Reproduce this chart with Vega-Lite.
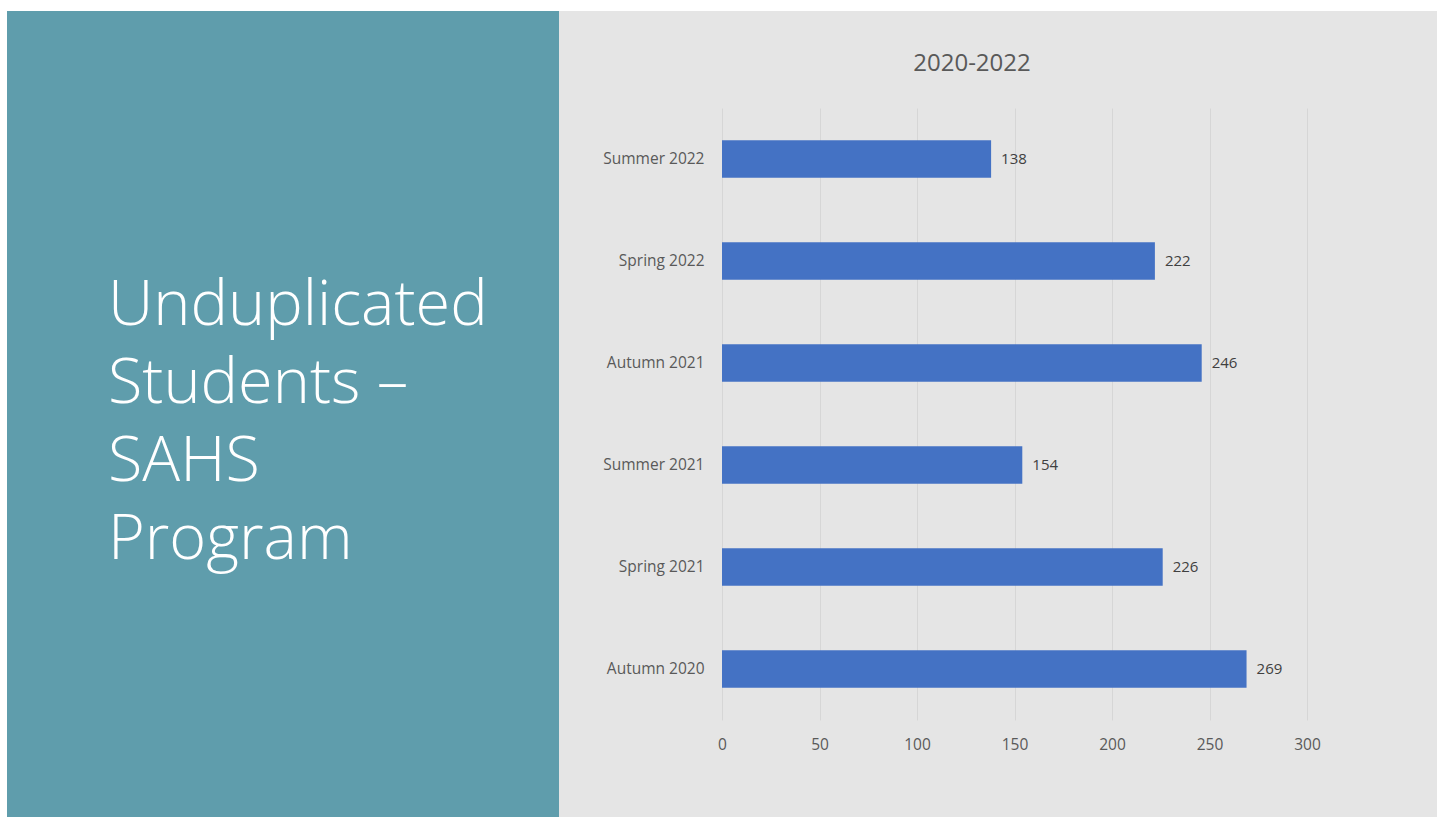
{
  "$schema": "https://vega.github.io/schema/vega-lite/v6.json",
  "background": "white",
  "padding": {"left": 7, "top": 11, "right": 0, "bottom": 0},
  "bounds": "flush",
  "spacing": 0,
  "config": {"font": "Open Sans", "view": {"stroke": null}},
  "datasets": {
    "enroll": [
      {"term": "Summer 2022", "students": 138},
      {"term": "Spring 2022", "students": 222},
      {"term": "Autumn 2021", "students": 246},
      {"term": "Summer 2021", "students": 154},
      {"term": "Spring 2021", "students": 226},
      {"term": "Autumn 2020", "students": 269}
    ],
    "heading": [
      {"line": "Unduplicated", "n": 1},
      {"line": "Students –", "n": 2},
      {"line": "SAHS", "n": 3},
      {"line": "Program", "n": 4}
    ]
  },
  "hconcat": [
    {
      "width": 552,
      "height": 806,
      "view": {"fill": "#5F9DAC", "stroke": null},
      "data": {"name": "heading"},
      "mark": {"type": "text", "align": "left", "baseline": "alphabetic", "dx": -175, "font": "Open Sans", "fontWeight": 300, "fontSize": 63, "color": "#FFFFFF"},
      "encoding": {
        "y": {"field": "n", "type": "quantitative", "axis": null, "scale": {"domain": [-3.0256, 7.3077], "reverse": true, "nice": false, "zero": false}},
        "text": {"field": "line"}
      }
    },
    {
      "width": 878,
      "height": 806,
      "view": {"fill": "#E5E5E5", "stroke": null},
      "title": {"text": "2020-2022", "fontSize": 24, "fontWeight": 400, "color": "#595959", "anchor": "middle", "baseline": "alphabetic", "offset": -84, "dx": -26},
      "data": {"name": "enroll"},
      "encoding": {
        "y": {
          "field": "term", "type": "nominal",
          "sort": ["Summer 2022", "Spring 2022", "Autumn 2021", "Summer 2021", "Spring 2021", "Autumn 2020"],
          "scale": {"range": [97, 709], "paddingInner": 0.63, "paddingOuter": 0.315},
          "axis": {"title": null, "domain": false, "ticks": false, "tickSize": 0, "labelPadding": 0, "offset": -145, "labelFontSize": 15.5, "labelColor": "#595959", "grid": false}
        },
        "x": {
          "field": "students", "type": "quantitative",
          "scale": {"domain": [0, 300], "range": [163, 748], "nice": false},
          "axis": {"title": null, "values": [0, 50, 100, 150, 200, 250, 300], "labelFlush": false, "grid": true, "gridColor": "#D6D6D6", "domain": false, "ticks": false, "tickSize": 0, "labelPadding": 17, "labelFontSize": 15.5, "labelColor": "#595959", "offset": -97}
        }
      },
      "layer": [
        {"mark": {"type": "bar", "color": "#4472C4"}},
        {"mark": {"type": "text", "align": "left", "baseline": "middle", "dx": 10, "fontSize": 15, "color": "#404040"}, "encoding": {"text": {"field": "students", "type": "quantitative"}}}
      ]
    }
  ]
}
